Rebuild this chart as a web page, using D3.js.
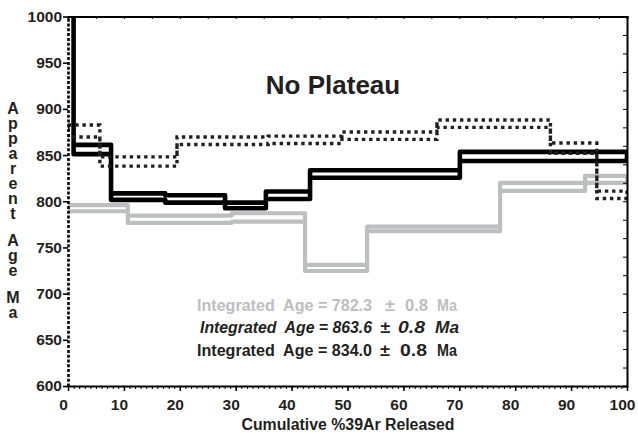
<!DOCTYPE html>
<html><head><meta charset="utf-8">
<script src="https://cdn.jsdelivr.net/npm/d3@7"></script>
<style>
body{margin:0;background:#fff}
svg text{font-family:"Liberation Sans",Arial,Helvetica,sans-serif;font-weight:bold}
.vt{writing-mode:vertical-rl;text-orientation:upright}
</style>
</head><body><svg id="c" width="638" height="439"></svg>
<script>
// ---- data ----
const blackBounds = [0, 1.0, 7.7, 17.4, 28.1, 35.4, 43.3, 70.1, 100];
const blackAges   = [1150, 856, 805, 802.5, 795.5, 806.5, 829.5, 848.5];
const blackErr    = [5, 5, 3.5, 4, 3, 4, 4, 5];

const dotBounds = [0, 5.7, 19.5, 35.8, 49.0, 66.0, 86.3, 94.6, 100];
const dotAges   = [876, 843, 865.5, 866.5, 871, 884, 857.5, 807];
const dotErr    = [6.5, 5, 4, 4, 4, 4, 5.5, 4];

const grayBounds = [0, 10.7, 29.3, 42.4, 53.5, 77.3, 92.5, 100];
const grayAges   = [792.5, 780.5, 782.5, 727.8, 770, 815.5, 823.7];
const grayErr    = [3.3, 4, 4.5, 3.3, 2.5, 4.3, 3.7];

const xTickVals = [0,10,20,30,40,50,60,70,80,90,100];
const yTickVals = [600,650,700,750,800,850,900,950,1000];
const integratedAges = ["782.3","863.6","834.0"];
const integratedErr  = ["0.8","0.8","0.8"];
const titleText = "No Plateau";
const xTitle = "Cumulative %39Ar Released";
const yTitleWords = ["Apparent","Age","Ma"];

// ---- layout ----
const svg = d3.select("#c");
const L = 68, R = 627, T = 16.5, B = 386;
const x = d3.scaleLinear().domain([0,100]).range([L,R]);
const y = d3.scaleLinear().domain([600,1000]).range([B,T]);

svg.append("defs").append("clipPath").attr("id","clip")
  .append("rect").attr("x",L).attr("y",T).attr("width",R-L).attr("height",B-T);

function stepPts(bounds, ages, errs){
  const up = [], lo = [];
  for(let i=0;i<ages.length;i++){
    up.push([bounds[i], ages[i]+errs[i]], [bounds[i+1], ages[i]+errs[i]]);
  }
  for(let i=ages.length-1;i>=0;i--){
    lo.push([bounds[i+1], ages[i]-errs[i]], [bounds[i], ages[i]-errs[i]]);
  }
  return up.concat(lo);
}
const line = d3.line().x(d=>x(d[0])).y(d=>y(d[1]));
const g = svg.append("g").attr("clip-path","url(#clip)");

g.append("path").attr("d", line(stepPts(grayBounds,grayAges,grayErr))+"Z")
  .attr("fill","none").attr("stroke","#bcbec0").attr("stroke-width",4.2)
  .attr("stroke-linejoin","round");
g.append("path").attr("d", line(stepPts(blackBounds,blackAges,blackErr))+"Z")
  .attr("fill","none").attr("stroke","#000").attr("stroke-width",4.6)
  .attr("stroke-linejoin","round");
g.append("path").attr("d", line(stepPts(dotBounds,dotAges,dotErr))+"Z")
  .attr("fill","none").attr("stroke","#231f20").attr("stroke-width",3.4)
  .attr("stroke-dasharray","3.4,3.8");

// ---- axes ----
svg.append("g").attr("transform",`translate(0,${B})`)
  .call(d3.axisBottom(x).tickValues(d3.range(0,101,1)).tickSize(3).tickFormat(""))
  .call(a=>a.select(".domain").remove());
svg.append("g").attr("transform",`translate(0,${T})`)
  .call(d3.axisBottom(x).tickValues(d3.range(0,101,5)).tickSize(2.5).tickFormat(""))
  .call(a=>a.select(".domain").attr("stroke-width",2));
svg.append("g").attr("transform",`translate(${R},0)`)
  .call(d3.axisLeft(y).tickValues(d3.range(600,1001,20)).tickSize(4).tickFormat(""))
  .call(a=>a.select(".domain").attr("stroke-width",2));

const xa = svg.append("g").attr("transform",`translate(0,${B})`)
  .call(d3.axisBottom(x).tickValues(xTickVals).tickSize(5).tickSizeOuter(0).tickFormat(d3.format("d")));
xa.select(".domain").attr("stroke-width",2.2);
xa.selectAll(".tick line").attr("stroke-width",1.5);
xa.selectAll(".tick text").attr("font-size",15.5).attr("fill","#231f20")
  .attr("dy","0").attr("y",24).attr("dx",-5);

const ya = svg.append("g").attr("transform",`translate(${L},0)`)
  .call(d3.axisLeft(y).tickValues(yTickVals).tickSize(5).tickSizeOuter(0).tickFormat(d3.format("d")));
ya.select(".domain").attr("stroke-width",2.6).attr("stroke-dasharray","3,1.8");
ya.selectAll(".tick line").attr("stroke-width",1.6);
ya.selectAll(".tick text").attr("font-size",15.5).attr("fill","#231f20").attr("x",-6);

// ---- titles ----
svg.append("text").attr("x",333).attr("y",94).attr("text-anchor","middle")
  .attr("font-size",26).attr("fill","#231f20").text(titleText);

svg.append("text").attr("x",348).attr("y",430).attr("text-anchor","middle")
  .attr("font-size",16).attr("fill","#231f20")
  .attr("textLength",213).attr("lengthAdjust","spacingAndGlyphs").text(xTitle);

// vertical stacked y title: one upright vertical text per word
const wordTop = [100, 232, 289];
yTitleWords.forEach((w,wi)=>{
  svg.append("text").attr("class","vt").attr("x",13).attr("y",wordTop[wi])
    .attr("font-size",16).style("letter-spacing","-2px")
    .attr("fill","#231f20").text(w);
});

// ---- integrated ages ----
const rows = [
  {c:"#bcbec0", it:false, yb:311, a:[197,175], pm:385, e:[405,23], m:[437,20]},
  {c:"#231f20", it:true,  yb:333, a:[200,172], pm:380, e:[398,27], m:[435,24]},
  {c:"#231f20", it:false, yb:356, a:[197,175], pm:380, e:[400,27], m:[437,20]}
];
rows.forEach((r,i)=>{
  const add = (txt, xx, len) => {
    const t = svg.append("text").attr("x",xx).attr("y",r.yb).attr("font-size",16.5)
      .attr("fill",r.c).attr("font-style", r.it ? "italic" : "normal")
      .style("white-space","pre").text(txt);
    if(len) t.attr("textLength",len).attr("lengthAdjust","spacingAndGlyphs");
  };
  add("Integrated  Age = " + integratedAges[i], r.a[0], r.a[1]);
  add("±", r.pm, 10);
  add(integratedErr[i], r.e[0], r.e[1]);
  add("Ma", r.m[0], r.m[1]);
});
</script>
</body></html>
